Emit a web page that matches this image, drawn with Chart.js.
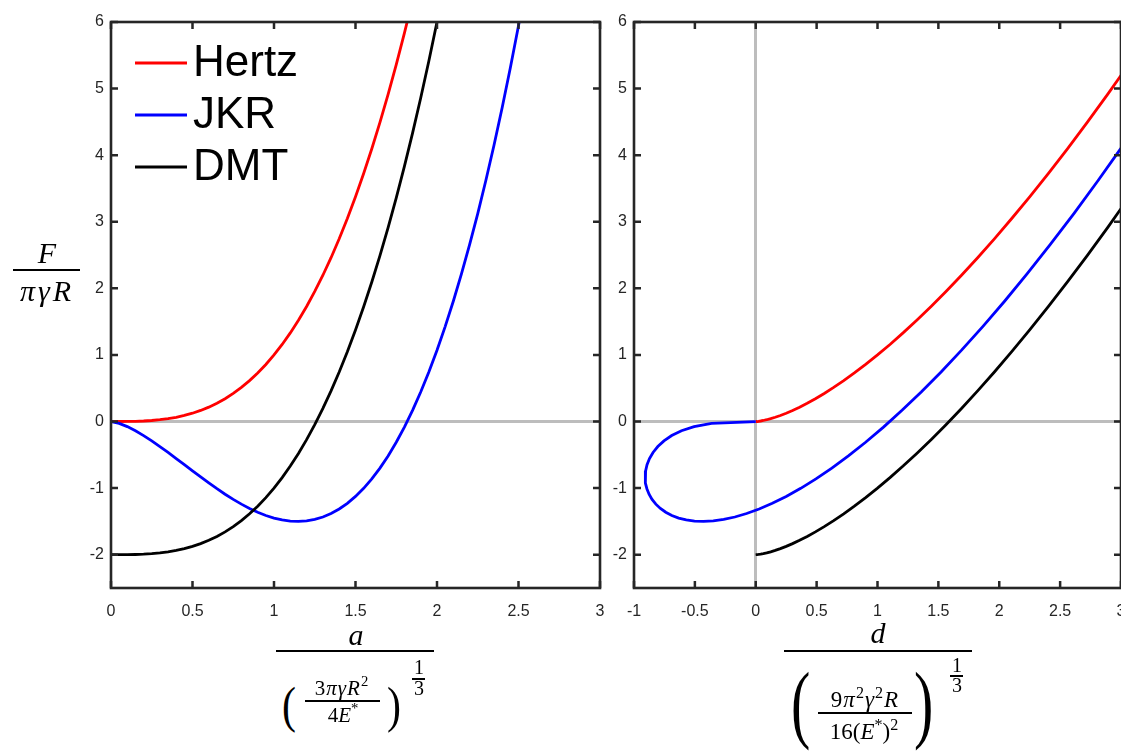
<!DOCTYPE html>
<html>
<head>
<meta charset="utf-8">
<title>Hertz / JKR / DMT</title>
<script src="https://cdn.jsdelivr.net/npm/chart.js@4.4.0/dist/chart.umd.min.js"></script>
<style>
  html, body { margin: 0; padding: 0; background: #fff; }
  body { position: relative; width: 1121px; height: 751px; overflow: hidden; }
  canvas { position: absolute; top: 0; }
  #leftChart { left: 0; }
  #rightChart { left: 612px; }
  .m { position: absolute; transform: translate(-50%, -50%); font-family: 'Liberation Serif', serif; color: #000; white-space: nowrap; line-height: 1; }
  .m i { font-style: italic; }
  .m sup { font-size: 70%; vertical-align: 0.55em; line-height: 0; font-style: normal; }
  .paren { font-family: 'Liberation Serif', serif; position: absolute; line-height: 1; color: #000; }
  .bar { position: absolute; background: #000; height: 2px; }
  .bar.thin { height: 1.5px; }
</style>
</head>
<body>
<canvas id="leftChart" width="610" height="640"></canvas>
<canvas id="rightChart" width="520" height="640"></canvas>

<!-- y title: F / (pi gamma R) -->
<div class="m" style="left:47px;top:253px;font-size:30px"><i>F</i></div>
<div class="bar" style="left:13px;top:269px;width:67px"></div>
<div class="m" style="left:47px;top:291px;font-size:30px;letter-spacing:3px"><i>πγR</i></div>

<!-- left x title -->
<div class="m" style="left:356px;top:635px;font-size:30px"><i>a</i></div>
<div class="bar" style="left:276px;top:650px;width:158px"></div>
<div class="paren" style="left:282px;top:680px;font-size:42px;transform:scaleY(1.2);transform-origin:top">(</div>
<div class="m" style="left:342px;top:688px;font-size:21px;letter-spacing:1px">3<i>πγR</i><sup>2</sup></div>
<div class="bar thin" style="left:305px;top:700px;width:75px"></div>
<div class="m" style="left:343px;top:715px;font-size:21px">4<i>E</i><sup>*</sup></div>
<div class="paren" style="left:387px;top:680px;font-size:42px;transform:scaleY(1.2);transform-origin:top">)</div>
<div class="m" style="left:419px;top:667px;font-size:20px">1</div>
<div class="bar thin" style="left:412px;top:678px;width:13px"></div>
<div class="m" style="left:419px;top:688px;font-size:20px">3</div>

<!-- right x title -->
<div class="m" style="left:878px;top:633px;font-size:30px"><i>d</i></div>
<div class="bar" style="left:784px;top:650px;width:188px"></div>
<div class="paren" style="left:791px;top:660px;font-size:58px;transform:scaleY(1.5);transform-origin:top">(</div>
<div class="m" style="left:865px;top:699px;font-size:23px;letter-spacing:1px">9<i>π</i><sup>2</sup><i>γ</i><sup>2</sup><i>R</i></div>
<div class="bar thin" style="left:818px;top:712px;width:94px"></div>
<div class="m" style="left:864px;top:731px;font-size:23px">16(<i>E</i><sup>*</sup>)<sup>2</sup></div>
<div class="paren" style="left:914px;top:660px;font-size:58px;transform:scaleY(1.5);transform-origin:top">)</div>
<div class="m" style="left:957px;top:665px;font-size:20px">1</div>
<div class="bar thin" style="left:950px;top:675px;width:13px"></div>
<div class="m" style="left:957px;top:685px;font-size:20px">3</div>

<script>
// contact radius (normalised), sampled every 0.05
const aValues = [0, 0.05, 0.1, 0.15, 0.2, 0.25, 0.3, 0.35, 0.4, 0.45, 0.5, 0.55, 0.6, 0.65, 0.7, 0.75, 0.8, 0.85, 0.9, 0.95,
  1, 1.05, 1.1, 1.15, 1.2, 1.25, 1.3, 1.35, 1.4, 1.45, 1.5, 1.55, 1.6, 1.65, 1.7, 1.75, 1.8, 1.85, 1.9, 1.95,
  2, 2.05, 2.1, 2.15, 2.2, 2.25, 2.3, 2.35, 2.4, 2.45, 2.5, 2.55];

// force for each model
const hertzF = [0, 0.0001, 0.001, 0.0034, 0.008, 0.0156, 0.027, 0.0429, 0.064, 0.0911, 0.125, 0.1664, 0.216, 0.2746, 0.343, 0.4219, 0.512, 0.6141, 0.729, 0.8574,
  1, 1.1576, 1.331, 1.5209, 1.728, 1.9531, 2.197, 2.4604, 2.744, 3.0486, 3.375, 3.7239, 4.096, 4.4921, 4.913, 5.3594, 5.832, 6.3316, 6.859, 7.4149,
  8, 8.6151, 9.261, 9.9384, 10.648, 11.3906, 12.167, 12.9779, 13.824, 14.7061, 15.625, 16.5814];
const dmtF = [-2, -1.9999, -1.999, -1.9966, -1.992, -1.9844, -1.973, -1.9571, -1.936, -1.9089, -1.875, -1.8336, -1.784, -1.7254, -1.657, -1.5781, -1.488, -1.3859, -1.271, -1.1426,
  -1, -0.8424, -0.669, -0.4791, -0.272, -0.0469, 0.197, 0.4604, 0.744, 1.0486, 1.375, 1.7239, 2.096, 2.4921, 2.913, 3.3594, 3.832, 4.3316, 4.859, 5.4149,
  6, 6.6151, 7.261, 7.9384, 8.648, 9.3906, 10.167, 10.9779, 11.824, 12.7061, 13.625, 14.5814];
const jkrF = [0, -0.0273, -0.0765, -0.1389, -0.2111, -0.2906, -0.3755, -0.4643, -0.5557, -0.6483, -0.741, -0.8328, -0.9224, -1.009, -1.0916, -1.1691, -1.2407, -1.3055, -1.3624, -1.4107,
  -1.4495, -1.4779, -1.495, -1.4999, -1.4919, -1.4701, -1.4337, -1.3818, -1.3136, -1.2283, -1.125, -1.003, -0.8614, -0.6995, -0.5164, -0.3113, -0.0834, 0.168, 0.4439, 0.7449,
  1.0718, 1.4255, 1.8067, 2.2163, 2.655, 3.1236, 3.6229, 4.1536, 4.7166, 5.3127, 5.9425, 6.607];

// indentation for each model (Hertz and DMT share the same one)
const hertzD = [0, 0.0025, 0.01, 0.0225, 0.04, 0.0625, 0.09, 0.1225, 0.16, 0.2025, 0.25, 0.3025, 0.36, 0.4225, 0.49, 0.5625, 0.64, 0.7225, 0.81, 0.9025,
  1, 1.1025, 1.21, 1.3225, 1.44, 1.5625, 1.69, 1.8225, 1.96, 2.1025, 2.25, 2.4025, 2.56, 2.7225, 2.89, 3.0625, 3.24, 3.4225, 3.61, 3.8025,
  4, 4.2025, 4.41, 4.6225, 4.84, 5.0625, 5.29, 5.5225, 5.76, 6.0025, 6.25, 6.5025];
const jkrD = [0, -0.3627, -0.5064, -0.61, -0.6903, -0.754, -0.8044, -0.8436, -0.8728, -0.8929, -0.9047, -0.9086, -0.9049, -0.8941, -0.8763, -0.8517, -0.8206, -0.783, -0.7392, -0.6891,
  -0.633, -0.5708, -0.5027, -0.4287, -0.3489, -0.2632, -0.1719, -0.0749, 0.0278, 0.1361, 0.25, 0.3694, 0.4944, 0.6249, 0.7608, 0.9022, 1.0491, 1.2014, 1.3591, 1.5222,
  1.6906, 1.8644, 2.0436, 2.2281, 2.4179, 2.613, 2.8134, 3.0192, 3.2302, 3.4465, 3.668, 3.8947];

const seriesNames = ['Hertz', 'JKR', 'DMT'];
const seriesColors = ['#ff0000', '#0000ff', '#000000'];

const yTicks = [-2, -1, 0, 1, 2, 3, 4, 5, 6];
const xTicksLeft = [0, 0.5, 1, 1.5, 2, 2.5, 3];
const xTicksRight = [-1, -0.5, 0, 0.5, 1, 1.5, 2, 2.5, 3];

const axisColor = '#262626';
const zeroColor = '#bdbdbd';

function pts(xs, ys) {
  return xs.map((x, i) => ({ x: x, y: ys[i] }));
}

function lineSet(i, data) {
  return {
    label: seriesNames[i],
    data: data,
    borderColor: seriesColors[i],
    borderWidth: 2.8,
    showLine: true,
    pointRadius: 0,
    fill: false,
    tension: 0,
    order: 3 - i
  };
}

// box with inward ticks on all four sides, like the original figure
const framePlugin = {
  id: 'frame',
  afterDatasetsDraw(chart) {
    const { ctx, chartArea: a } = chart;
    const xs = chart.scales.x, ys = chart.scales.y;
    const len = 7;
    ctx.save();
    ctx.strokeStyle = axisColor;
    ctx.lineWidth = 2.5;
    ctx.beginPath();
    xs.ticks.forEach(t => {
      const p = xs.getPixelForValue(t.value);
      ctx.moveTo(p, a.bottom); ctx.lineTo(p, a.bottom - len);
      ctx.moveTo(p, a.top); ctx.lineTo(p, a.top + len);
    });
    ys.ticks.forEach(t => {
      const p = ys.getPixelForValue(t.value);
      ctx.moveTo(a.left, p); ctx.lineTo(a.left + len, p);
      ctx.moveTo(a.right, p); ctx.lineTo(a.right - len, p);
    });
    ctx.stroke();
    ctx.lineWidth = 2.6;
    ctx.strokeRect(a.left, a.top, a.right - a.left, a.bottom - a.top);
    ctx.restore();
  }
};

const legendPlugin = {
  id: 'legendBox',
  afterDraw(chart) {
    const { ctx, chartArea: a } = chart;
    ctx.save();
    ctx.font = '44px "Liberation Sans", Arial, sans-serif';
    ctx.textBaseline = 'middle';
    chart.data.datasets.forEach((ds, i) => {
      const y = a.top + 41 + i * 52;
      ctx.strokeStyle = ds.borderColor;
      ctx.lineWidth = 2.8;
      ctx.beginPath();
      ctx.moveTo(a.left + 24, y);
      ctx.lineTo(a.left + 76, y);
      ctx.stroke();
      ctx.fillStyle = '#000';
      ctx.fillText(ds.label, a.left + 82, y + 1);
    });
    ctx.restore();
  }
};

function zeroGrid(on) {
  return {
    display: on,
    drawTicks: false,
    lineWidth: 3,
    color: c => (c.tick && c.tick.value === 0) ? zeroColor : 'rgba(0,0,0,0)'
  };
}

const tickFont = { family: '"Liberation Sans", Arial, sans-serif', size: 16 };

function makeChart(id, datasets, xMin, xMax, xTicks, yWidth, rightPad, vertZero, plugins) {
  return new Chart(document.getElementById(id).getContext('2d'), {
    type: 'scatter',
    data: { datasets: datasets },
    options: {
      responsive: false,
      animation: false,
      events: [],
      layout: { padding: { top: 22, right: rightPad, left: 0, bottom: 0 } },
      plugins: { legend: { display: false }, tooltip: { enabled: false } },
      scales: {
        x: {
          type: 'linear', min: xMin, max: xMax,
          afterBuildTicks: s => { s.ticks = xTicks.map(v => ({ value: v })); },
          afterFit: s => { s.height = 52; s.paddingLeft = 0; s.paddingRight = 0; },
          grid: zeroGrid(vertZero),
          border: { display: false },
          ticks: { padding: 14, font: tickFont, color: axisColor, autoSkip: false, maxRotation: 0, callback: v => String(v) }
        },
        y: {
          type: 'linear', min: -2.5, max: 6,
          afterBuildTicks: s => { s.ticks = yTicks.map(v => ({ value: v })); },
          afterFit: s => { s.width = yWidth; s.paddingTop = 0; s.paddingBottom = 0; },
          grid: zeroGrid(true),
          border: { display: false },
          ticks: { padding: 7, font: tickFont, color: axisColor, autoSkip: false, callback: v => String(v) }
        }
      }
    },
    plugins: plugins
  });
}

makeChart('leftChart', [
  lineSet(0, pts(aValues, hertzF)),
  lineSet(1, pts(aValues, jkrF)),
  lineSet(2, pts(aValues, dmtF))
], 0, 3, xTicksLeft, 111, 10, false, [framePlugin, legendPlugin]);

makeChart('rightChart', [
  lineSet(0, pts(hertzD, hertzF)),
  lineSet(1, pts(jkrD, jkrF)),
  lineSet(2, pts(hertzD, dmtF))
], -1, 3, xTicksRight, 22, 11, true, [framePlugin]);
</script>
</body>
</html>
